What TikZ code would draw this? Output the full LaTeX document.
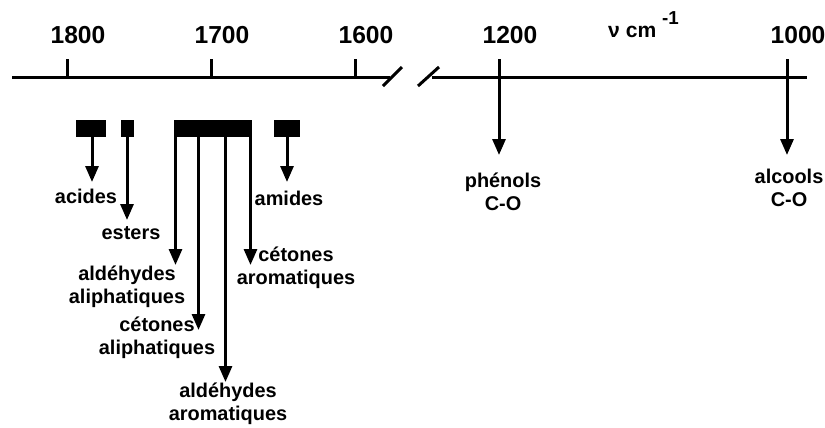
\documentclass[tikz,border=0pt]{standalone}
\usepackage{fontspec}
\setmainfont{Liberation Sans}
\usetikzlibrary{arrows.meta}

\begin{document}
\begin{tikzpicture}[
    x=0.3mm,
    y=-0.3mm,
    axisline/.style={line width=0.9mm},
    pointer/.style={line width=0.9mm,-{Triangle[width=3.9mm,length=4.8mm]}},
    band/.style={fill=black,inner sep=0pt,minimum height=5.1mm},
    ticklabel/.style={font=\fontsize{21}{24}\selectfont\bfseries,inner sep=0pt},
    grouplabel/.style={font=\fontsize{17}{20}\selectfont\bfseries,align=center,inner sep=0pt}
  ]
    \useasboundingbox (0,0) rectangle (825,427);

    % wavenumber axis with its break
    \draw[axisline] (12,77) -- (390,77);
    \draw[axisline] (432,77) -- (807,77);
    \draw[axisline] (383,86) -- (402,67);
    \draw[axisline] (418,86) -- (439,67);

    \foreach \x/\v in {67/1800,211/1700,355/1600} {
      \draw[axisline] (\x,59) -- (\x,77);
      \node[ticklabel,anchor=base] (t\v) at (\x+11,43) {\v};
    }
    \node[ticklabel,anchor=base] (t1200) at (510,43) {1200};
    \node[ticklabel,anchor=base] (t1000) at (798,43) {1000};
    \node[ticklabel,anchor=base west] (unit) at (608,37)
      {\fontsize{18}{20}\selectfont ν\ cm \raisebox{0.6em}{\fontsize{16}{16}\selectfont -1}};

    % absorption bands
    \node[band,minimum width=9mm] (acb) at (91,128.5) {};
    \node[band,minimum width=3.9mm] (esb) at (127.5,128.5) {};
    \node[band,minimum width=23.4mm] (cob) at (213,128.5) {};
    \node[band,minimum width=7.8mm] (amb) at (287,128.5) {};

    \foreach \n/\b/\x/\y in {ac/acb/92/182, es/esb/127/220,
        aal/cob/175.5/265, cal/cob/198.5/330, aar/cob/225.5/382,
        car/cob/250.5/265, am/amb/287/182} {
      \coordinate (tip\n) at (\x,\y);
      \draw[pointer] (tip\n |- \b.south) -- (tip\n);
    }

    \coordinate (k1200) at (499,59);
    \coordinate (tipph) at (499,155);
    \draw[pointer] (k1200) -- (tipph);
    \coordinate (k1000) at (787,59);
    \coordinate (tipal) at (787,155);
    \draw[pointer] (k1000) -- (tipal);

    % group labels
    \node[grouplabel] (acl) at (86,196) {acides};
    \node[grouplabel] (esl) at (131,233) {esters};
    \node[grouplabel] (aall) at (127,287) {aldéhydes\\aliphatiques};
    \node[grouplabel] (call) at (157,338) {cétones\\aliphatiques};
    \node[grouplabel] (aarl) at (228,404) {aldéhydes\\aromatiques};
    \node[grouplabel] (carl) at (296,268) {cétones\\aromatiques};
    \node[grouplabel] (aml) at (289,198) {amides};
    \node[grouplabel] (phl) at (503,192) {phénols\\C-O};
    \node[grouplabel] (all) at (789,188) {alcools\\C-O};
  \end{tikzpicture}
\end{document}
